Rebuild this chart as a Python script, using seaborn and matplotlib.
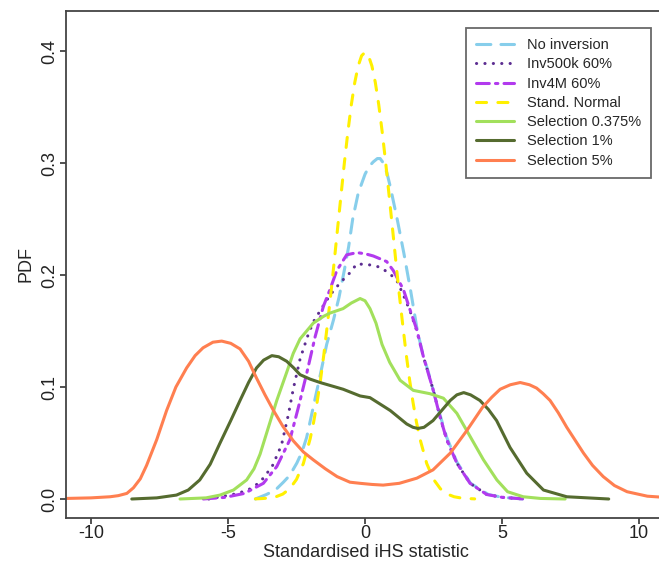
import matplotlib
matplotlib.use("Agg")
import matplotlib.pyplot as plt
import seaborn as sns

# density curves (x = standardised iHS, y = PDF)
no_inv_x = [-4.0, -3.6, -3.27, -2.98, -2.75, -2.49, -2.3, -2.13, -1.89, -1.64, -1.4, -1.15, -0.95,
            -0.75, -0.6, -0.45, -0.25, 0.0, 0.15, 0.3, 0.45, 0.55, 0.67, 0.8, 0.92, 1.18, 1.42, 1.67,
            1.91, 2.13, 2.29, 2.49, 2.7, 2.98, 3.35, 3.85, 4.5, 5.0, 5.8]
no_inv_y = [0.0, 0.004, 0.008, 0.015, 0.021, 0.032, 0.042, 0.055, 0.082, 0.110, 0.138, 0.160, 0.180,
            0.205, 0.225, 0.250, 0.273, 0.290, 0.297, 0.301, 0.304, 0.304, 0.300, 0.291, 0.279, 0.249,
            0.219, 0.185, 0.150, 0.127, 0.115, 0.097, 0.078, 0.055, 0.033, 0.014, 0.004, 0.0015, 0.0]

inv500k_x = [-5.7, -4.63, -4.2, -3.83, -3.39, -3.05, -2.8, -2.62, -2.37, -2.1, -1.89, -1.64, -1.28,
             -0.91, -0.55, -0.3, 0.18, 0.55, 0.91, 1.16, 1.4, 1.64, 1.89, 2.13, 2.49, 2.74, 2.98,
             3.35, 3.83, 4.44, 5.0, 5.8]
inv500k_y = [0.0, 0.005, 0.009, 0.015, 0.029, 0.048, 0.075, 0.098, 0.125, 0.145, 0.158, 0.168, 0.182,
             0.193, 0.202, 0.210, 0.209, 0.207, 0.201, 0.195, 0.182, 0.168, 0.150, 0.127, 0.097, 0.073,
             0.053, 0.032, 0.014, 0.004, 0.0015, 0.0]

inv4m_x = [-5.9, -5.1, -4.4, -3.71, -3.22, -2.74, -2.43, -2.13, -1.82, -1.52, -1.28, -1.03, -0.67,
           -0.3, 0.0, 0.3, 0.79, 1.03, 1.4, 1.64, 1.89, 2.13, 2.49, 2.74, 2.98, 3.35, 3.83, 4.44,
           5.0, 5.8]
inv4m_y = [0.0, 0.0015, 0.005, 0.014, 0.029, 0.053, 0.082, 0.112, 0.145, 0.172, 0.187, 0.204, 0.218,
           0.220, 0.219, 0.217, 0.212, 0.204, 0.187, 0.169, 0.151, 0.127, 0.097, 0.073, 0.053, 0.032,
           0.014, 0.004, 0.0015, 0.0]

norm_x = [-4.0, -3.75, -3.5, -3.25, -3.0, -2.75, -2.5, -2.25, -2.0, -1.875, -1.75, -1.625, -1.5,
          -1.375, -1.25, -1.125, -1.0, -0.875, -0.75, -0.625, -0.5, -0.375, -0.25, -0.125, 0.0,
          0.125, 0.25, 0.375, 0.5, 0.625, 0.75, 0.875, 1.0, 1.125, 1.25, 1.375, 1.5, 1.625, 1.75,
          1.875, 2.0, 2.25, 2.5, 2.75, 3.0, 3.25, 3.5, 3.75, 4.0]
norm_y = [0.0001, 0.0004, 0.0009, 0.002, 0.0044, 0.0091, 0.0175, 0.0317, 0.054, 0.0687, 0.0863,
          0.1064, 0.1295, 0.1556, 0.1826, 0.2119, 0.242, 0.2717, 0.3011, 0.328, 0.3521, 0.3719,
          0.3867, 0.3958, 0.3989, 0.3958, 0.3867, 0.3719, 0.3521, 0.328, 0.3011, 0.2717, 0.242,
          0.2119, 0.1826, 0.1556, 0.1295, 0.1064, 0.0863, 0.0687, 0.054, 0.0317, 0.0175, 0.0091,
          0.0044, 0.002, 0.0009, 0.0004, 0.0001]

sel0375_x = [-6.75, -5.8, -5.29, -4.8, -4.32, -4.05, -3.83, -3.5, -3.22, -2.86, -2.62, -2.37, -2.13,
             -1.89, -1.52, -1.28, -0.8, -0.5, -0.18, 0.0, 0.18, 0.4, 0.62, 0.9, 1.28, 1.76, 2.37,
             2.86, 3.35, 3.83, 4.32, 4.81, 5.2, 5.77, 6.4, 7.3]
sel0375_y = [0.0, 0.001, 0.0035, 0.008, 0.017, 0.027, 0.040, 0.066, 0.088, 0.113, 0.130, 0.143, 0.150,
             0.157, 0.163, 0.166, 0.170, 0.175, 0.179, 0.177, 0.170, 0.157, 0.138, 0.122, 0.106,
             0.097, 0.094, 0.090, 0.0765, 0.056, 0.035, 0.017, 0.0065, 0.002, 0.0005, 0.0]

sel1_x = [-8.51, -7.6, -6.88, -6.45, -6.03, -5.65, -5.29, -4.9, -4.56, -4.25, -3.96, -3.7, -3.4,
          -3.15, -2.86, -2.6, -2.37, -2.0, -1.64, -0.8, -0.18, 0.18, 0.92, 1.52, 1.75, 1.93, 2.15,
          2.48, 3.11, 3.35, 3.6, 3.85, 4.19, 4.5, 4.8, 5.29, 5.9, 6.51, 7.36, 8.89]
sel1_y = [0.0, 0.001, 0.0035, 0.008, 0.017, 0.031, 0.050, 0.070, 0.088, 0.104, 0.117, 0.124, 0.128,
          0.127, 0.123, 0.117, 0.111, 0.107, 0.104, 0.098, 0.092, 0.0905, 0.079, 0.067, 0.064, 0.063,
          0.064, 0.070, 0.088, 0.093, 0.095, 0.093, 0.088, 0.080, 0.070, 0.046, 0.023, 0.008, 0.002,
          0.0]

sel5_x = [-10.9, -10.0, -9.3, -9.0, -8.69, -8.45, -8.2, -7.97, -7.6, -7.24, -6.9, -6.51, -6.2, -5.91,
          -5.55, -5.23, -4.9, -4.56, -4.25, -3.96, -3.65, -3.34, -3.0, -2.62, -2.25, -1.89, -1.45,
          -1.02, -0.55, -0.18, 0.25, 0.66, 1.25, 1.89, 2.48, 3.11, 3.71, 4.29, 4.63, 4.93, 5.3,
          5.66, 6.0, 6.26, 6.5, 6.75, 7.05, 7.36, 7.97, 8.3, 8.69, 9.1, 9.56, 10.3, 10.9]
sel5_y = [0.0005, 0.001, 0.002, 0.003, 0.005, 0.010, 0.018, 0.030, 0.053, 0.079, 0.100, 0.117, 0.128,
          0.135, 0.140, 0.141, 0.139, 0.134, 0.123, 0.108, 0.093, 0.079, 0.065, 0.052, 0.042, 0.035,
          0.027, 0.020, 0.015, 0.014, 0.013, 0.0124, 0.014, 0.0186, 0.026, 0.041, 0.061, 0.082,
          0.091, 0.098, 0.102, 0.104, 0.102, 0.099, 0.094, 0.088, 0.077, 0.064, 0.041, 0.030, 0.020,
          0.012, 0.0065, 0.0025, 0.0015]

labels = ["No inversion", "Inv500k 60%", "Inv4M 60%", "Stand. Normal",
          "Selection 0.375%", "Selection 1%", "Selection 5%"]
xs = [no_inv_x, inv500k_x, inv4m_x, norm_x, sel0375_x, sel1_x, sel5_x]
ys = [no_inv_y, inv500k_y, inv4m_y, norm_y, sel0375_y, sel1_y, sel5_y]
colors = ["#87ceeb", "#5c2d91", "#b23aee", "#fff000", "#a2e05c", "#556b2f", "#ff7f50"]
dashes = [(4.7, 3.3), (0.05, 2.7), (4.2, 2.0, 0.8, 2.0), (3.3, 3.7), None, None, None]

sns.set_style("ticks")
plt.rcParams["font.family"] = ["Liberation Sans", "DejaVu Sans"]
plt.rcParams["axes.unicode_minus"] = False

fig = plt.figure(figsize=(6.59, 5.65), dpi=100)
ax = fig.add_axes([66 / 659, (565 - 517.7) / 565, 600 / 659, 507 / 565])

for lab, x, y, c, d in zip(labels, xs, ys, colors, dashes):
    sns.lineplot(x=x, y=y, ax=ax, color=c, label=lab, lw=2.2, sort=False,
                 solid_capstyle="round", dash_capstyle="round")
    if d is not None:
        ax.lines[-1].set_dashes(d)

ax.set_xlim(-10.91, 10.98)
ax.set_ylim(-0.0167, 0.436)
ax.set_xticks([-10, -5, 0, 5, 10])
ax.set_yticks([0.0, 0.1, 0.2, 0.3, 0.4])
ax.set_yticklabels(["0.0", "0.1", "0.2", "0.3", "0.4"], rotation=90, va="center")
ax.tick_params(direction="out", length=4.5, width=1.1, labelsize=13, colors="#222222", pad=1)
for s in ax.spines.values():
    s.set_color("#444444")
    s.set_linewidth(1.3)

ax.set_xlabel("Standardised iHS statistic", fontsize=13, labelpad=1)
ax.set_ylabel("PDF", fontsize=13, labelpad=5)

leg = ax.legend(loc="upper left", bbox_to_anchor=(0.666, 0.966), fontsize=10.5,
                frameon=True, fancybox=False, handlelength=2.6, handletextpad=0.9,
                labelspacing=0.36, borderpad=0.7, borderaxespad=0)
leg.get_frame().set_edgecolor("#444444")
leg.get_frame().set_linewidth(1.3)

fig.savefig("out.png", dpi=100)
